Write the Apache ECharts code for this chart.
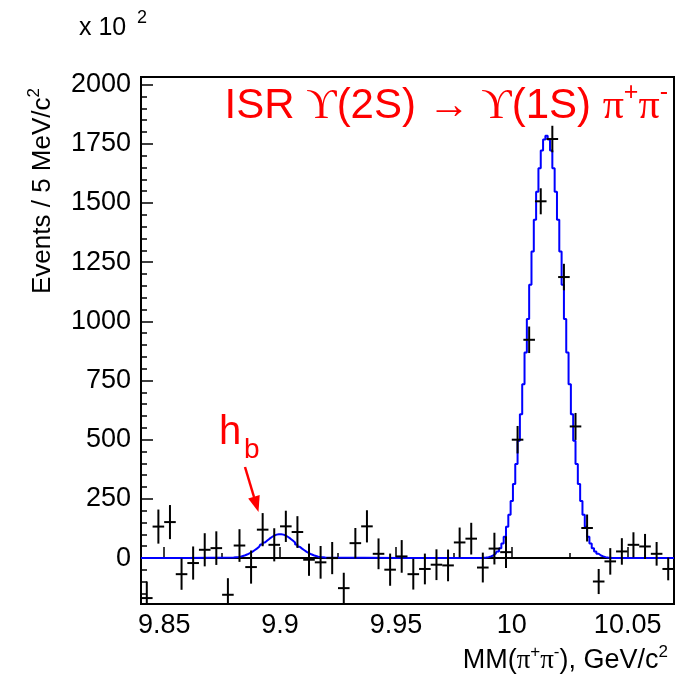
<!DOCTYPE html>
<html>
<head>
<meta charset="utf-8">
<script src="https://cdn.jsdelivr.net/npm/echarts@6/dist/echarts.min.js"></script>
<style>
  html, body { margin: 0; padding: 0; background: #fff; }
  #chart { width: 678px; height: 675px; }
</style>
</head>
<body>
<div id="chart"></div>
<script>
// Missing-mass spectrum, 5 MeV bins (counts in units of 10^2)
const binCenters = [
  9.8425, 9.8475, 9.8525, 9.8575, 9.8625, 9.8675, 9.8725, 9.8775, 9.8825, 9.8875,
  9.8925, 9.8975, 9.9025, 9.9075, 9.9125, 9.9175, 9.9225, 9.9275, 9.9325, 9.9375,
  9.9425, 9.9475, 9.9525, 9.9575, 9.9625, 9.9675, 9.9725, 9.9775, 9.9825, 9.9875,
  9.9925, 9.9975, 10.0025, 10.0075, 10.0125, 10.0175, 10.0225, 10.0275, 10.0325, 10.0375,
  10.0425, 10.0475, 10.0525, 10.0575, 10.0625, 10.0675
];
const counts = [
  -169, 133, 152, -68, -21, 35, 42, -155, 53, -38,
  120, 56, 134, 110, -7, -18, 0, -127, 63, 134,
  18, -49, 7, -68, -46, -28, -31, 66, 82, -40,
  40, 25, 500, 922, 1507, 1770, 1187, 556, 127, -99,
  -14, 28, 56, 49, 18, -46
];
const errors = [
  70, 72, 72, 66, 70, 70, 71, 70, 69, 70,
  70, 70, 66, 67, 68, 69, 68, 65, 64, 68,
  65, 68, 69, 65, 65, 65, 67, 63, 67, 63,
  67, 67, 58, 56, 55, 56, 56, 57, 57, 53,
  56, 56, 53, 53, 50, 48
];
const binHalfWidth = 0.0025;

// Fit curve: h_b signal region
const hbFitX = [
  9.880, 9.881, 9.882, 9.883, 9.884, 9.885, 9.886, 9.887, 9.888, 9.889,
  9.890, 9.891, 9.892, 9.893, 9.894, 9.895, 9.896, 9.897, 9.898, 9.899,
  9.900, 9.901, 9.902, 9.903, 9.904, 9.905, 9.906, 9.907, 9.908, 9.909,
  9.910, 9.911, 9.912, 9.913, 9.914, 9.915, 9.916, 9.917, 9.918, 9.919, 9.920
];
const hbFitY = [
  2, 3, 4, 6, 9, 12, 16, 21, 26, 33,
  40, 48, 57, 66, 74, 82, 89, 95, 99, 101,
  101, 99, 95, 89, 82, 74, 66, 57, 48, 40,
  33, 26, 21, 16, 12, 9, 6, 4, 3, 2, 0
];
// Fit curve: Upsilon(1S) peak region
const upsFitX = [
  9.985, 9.986, 9.987, 9.988, 9.989, 9.990, 9.991, 9.992, 9.993, 9.994,
  9.995, 9.996, 9.997, 9.998, 9.999, 10.000, 10.001, 10.002, 10.003, 10.004,
  10.005, 10.006, 10.007, 10.008, 10.009, 10.010, 10.011, 10.012, 10.013, 10.014,
  10.015,
  10.016, 10.017, 10.018, 10.019, 10.020, 10.021, 10.022, 10.023, 10.024, 10.025,
  10.026, 10.027, 10.028, 10.029, 10.030, 10.031, 10.032, 10.033, 10.034, 10.035,
  10.036, 10.037, 10.038, 10.039, 10.040, 10.041, 10.042, 10.043, 10.044, 10.045
];
const upsFitY = [
  0, 0, 0, 1, 2, 4, 7, 11, 18, 28,
  42, 62, 90, 132, 183, 241, 313, 397, 496, 608,
  734, 868, 1010, 1154, 1295, 1429, 1547, 1647, 1722, 1768,
  1784,
  1768, 1722, 1647, 1547, 1429, 1295, 1154, 1010, 868, 734,
  608, 496, 397, 313, 241, 183, 132, 90, 62, 42,
  28, 18, 11, 7, 4, 2, 1, 0, 0, 0
];
const fitBackground = 0;

const xMin = 9.84, xMax = 10.07;
const yMin = -194, yMax = 2032;
const xMajorTicks = [9.85, 9.9, 9.95, 10, 10.05];
const xMajorLabels = ['9.85', '9.9', '9.95', '10', '10.05'];
const xMinorTicks = [9.875, 9.925, 9.975, 10.025];
const yMajorTicks = [0, 250, 500, 750, 1000, 1250, 1500, 1750, 2000];
const yMajorLabels = ['0', '250', '500', '750', '1000', '1250', '1500', '1750', '2000'];
const yMinorTicks = [
  -150, -100, -50, 50, 100, 150, 200, 300, 350, 400, 450, 550, 600, 650, 700,
  800, 850, 900, 950, 1050, 1100, 1150, 1200, 1300, 1350, 1400, 1450,
  1550, 1600, 1650, 1700, 1800, 1850, 1900, 1950
];

const pointData = binCenters.map((x, i) => [x, counts[i], errors[i]]);
const fitData = [[xMin, fitBackground]]
  .concat(hbFitX.map((x, i) => [x, hbFitY[i]]))
  .concat(upsFitX.map((x, i) => [x, upsFitY[i]]))
  .concat([[xMax, fitBackground]]);

const SANS = '"Liberation Sans", Arial, Helvetica, sans-serif';
const SERIF = '"Liberation Serif", "DejaVu Serif", serif';
const RED = '#ff0000';

const chart = echarts.init(document.getElementById('chart'), null, { renderer: 'canvas' });

function tickLabel(ticks, labels) {
  return function (v) {
    const i = ticks.findIndex(t => Math.abs(t - v) < 1e-9);
    return i >= 0 ? labels[i] : '';
  };
}

chart.setOption({
  animation: false,
  backgroundColor: '#fff',
  grid: {
    left: 141, right: 4, top: 77, bottom: 71,
    show: true, borderColor: '#000', borderWidth: 2, backgroundColor: 'transparent'
  },
  xAxis: [
    {
      type: 'value', min: xMin, max: xMax, position: 'bottom',
      axisLine: { show: true, lineStyle: { color: '#000', width: 2 } },
      axisTick: { show: true, inside: true, length: 11, customValues: xMajorTicks,
                  lineStyle: { color: '#000', width: 1.5 } },
      axisLabel: { show: true, customValues: xMajorTicks,
                   formatter: tickLabel(xMajorTicks, xMajorLabels), margin: 8,
                   color: '#000', fontSize: 27, fontFamily: SANS },
      splitLine: { show: false }
    },
    {
      type: 'value', min: xMin, max: xMax, position: 'bottom',
      axisLine: { show: false },
      axisTick: { show: true, inside: true, length: 5, customValues: xMinorTicks,
                  lineStyle: { color: '#000', width: 1.5 } },
      axisLabel: { show: false },
      splitLine: { show: false }
    }
  ],
  yAxis: [
    {
      type: 'value', min: yMin, max: yMax, position: 'left',
      axisLine: { show: true, lineStyle: { color: '#000', width: 2 } },
      axisTick: { show: true, inside: true, length: 12, customValues: yMajorTicks,
                  lineStyle: { color: '#000', width: 1.5 } },
      axisLabel: { show: true, customValues: yMajorTicks,
                   formatter: tickLabel(yMajorTicks, yMajorLabels), margin: 10,
                   color: '#000', fontSize: 27, fontFamily: SANS },
      splitLine: { show: false }
    },
    {
      type: 'value', min: yMin, max: yMax, position: 'left',
      axisLine: { show: false },
      axisTick: { show: true, inside: true, length: 6, customValues: yMinorTicks,
                  lineStyle: { color: '#000', width: 1.5 } },
      axisLabel: { show: false },
      splitLine: { show: false }
    }
  ],
  series: [
    {
      type: 'line',
      name: 'fit',
      xAxisIndex: 0, yAxisIndex: 0,
      data: fitData,
      step: 'middle',
      showSymbol: false,
      clip: true,
      z: 2,
      lineStyle: { color: '#0000ff', width: 2 }
    },
    {
      type: 'custom',
      name: 'data',
      xAxisIndex: 0, yAxisIndex: 0,
      data: pointData,
      clip: true,
      z: 3,
      renderItem: function (params, api) {
        const x = api.value(0), y = api.value(1), e = api.value(2);
        const c = api.coord([x, y]);
        const l = api.coord([x - binHalfWidth, y]);
        const r = api.coord([x + binHalfWidth, y]);
        const t = api.coord([x, y + e]);
        const b = api.coord([x, y - e]);
        const st = { stroke: '#000', lineWidth: 2 };
        return {
          type: 'group',
          children: [
            { type: 'line', shape: { x1: l[0], y1: c[1], x2: r[0], y2: c[1] }, style: st },
            { type: 'line', shape: { x1: c[0], y1: t[1], x2: c[0], y2: b[1] }, style: st }
          ]
        };
      }
    }
  ],
  graphic: [
    // axis multiplier
    {
      type: 'text', x: 79, y: 28,
      style: { text: 'x 10', font: '25px ' + SANS, fill: '#000', align: 'left', verticalAlign: 'middle' }
    },
    {
      type: 'text', x: 137, y: 18,
      style: { text: '2', font: '18px ' + SANS, fill: '#000', align: 'left', verticalAlign: 'middle' }
    },
    // y axis title
    {
      type: 'text', x: 41, y: 88, rotation: Math.PI / 2,
      style: {
        text: '{m|Events / 5 MeV/c}{s|2}',
        align: 'right', verticalAlign: 'middle', fill: '#000',
        rich: {
          m: { fontSize: 26, fontFamily: SANS, fill: '#000', lineHeight: 30, verticalAlign: 'bottom' },
          s: { fontSize: 17, fontFamily: SANS, fill: '#000', lineHeight: 17, verticalAlign: 'top' }
        }
      }
    },
    // x axis title
    {
      type: 'text', x: 668, y: 659,
      style: {
        text: '{m|MM(}{g|π}{s|+}{g|π}{s|-}{m|), GeV/c}{s|2}',
        align: 'right', verticalAlign: 'middle', fill: '#000',
        rich: {
          m: { fontSize: 27, fontFamily: SANS, fill: '#000', lineHeight: 31, verticalAlign: 'bottom' },
          g: { fontSize: 27, fontFamily: SERIF, fill: '#000', lineHeight: 31, verticalAlign: 'bottom' },
          s: { fontSize: 17, fontFamily: SANS, fill: '#000', lineHeight: 17, verticalAlign: 'top' }
        }
      }
    },
    // reaction label
    {
      type: 'text', x: 668, y: 104,
      style: {
        text: '{m|ISR }{g|ϒ}{m|(2S) }{g|→}{m| }{g|ϒ}{m|(1S) }{g|π}{s|+}{g|π}{s|-}',
        align: 'right', verticalAlign: 'middle', fill: RED,
        rich: {
          m: { fontSize: 42, fontFamily: SANS, fill: RED, lineHeight: 47, verticalAlign: 'bottom' },
          g: { fontSize: 42, fontFamily: SERIF, fill: RED, lineHeight: 47, verticalAlign: 'bottom' },
          s: { fontSize: 25, fontFamily: SANS, fill: RED, lineHeight: 25, verticalAlign: 'top' }
        }
      }
    },
    // h_b label and arrow
    {
      type: 'text', x: 219, y: 433,
      style: { text: 'h', font: '40px ' + SANS, fill: RED, align: 'left', verticalAlign: 'middle' }
    },
    {
      type: 'text', x: 244, y: 450,
      style: { text: 'b', font: '28px ' + SANS, fill: RED, align: 'left', verticalAlign: 'middle' }
    },
    {
      type: 'line', shape: { x1: 245, y1: 467, x2: 254, y2: 497 },
      style: { stroke: RED, lineWidth: 2.5 }
    },
    {
      type: 'polygon', shape: { points: [[258.5, 512], [248.2, 498.4], [259.7, 495]] },
      style: { fill: RED }
    }
  ]
});
</script>
</body>
</html>
